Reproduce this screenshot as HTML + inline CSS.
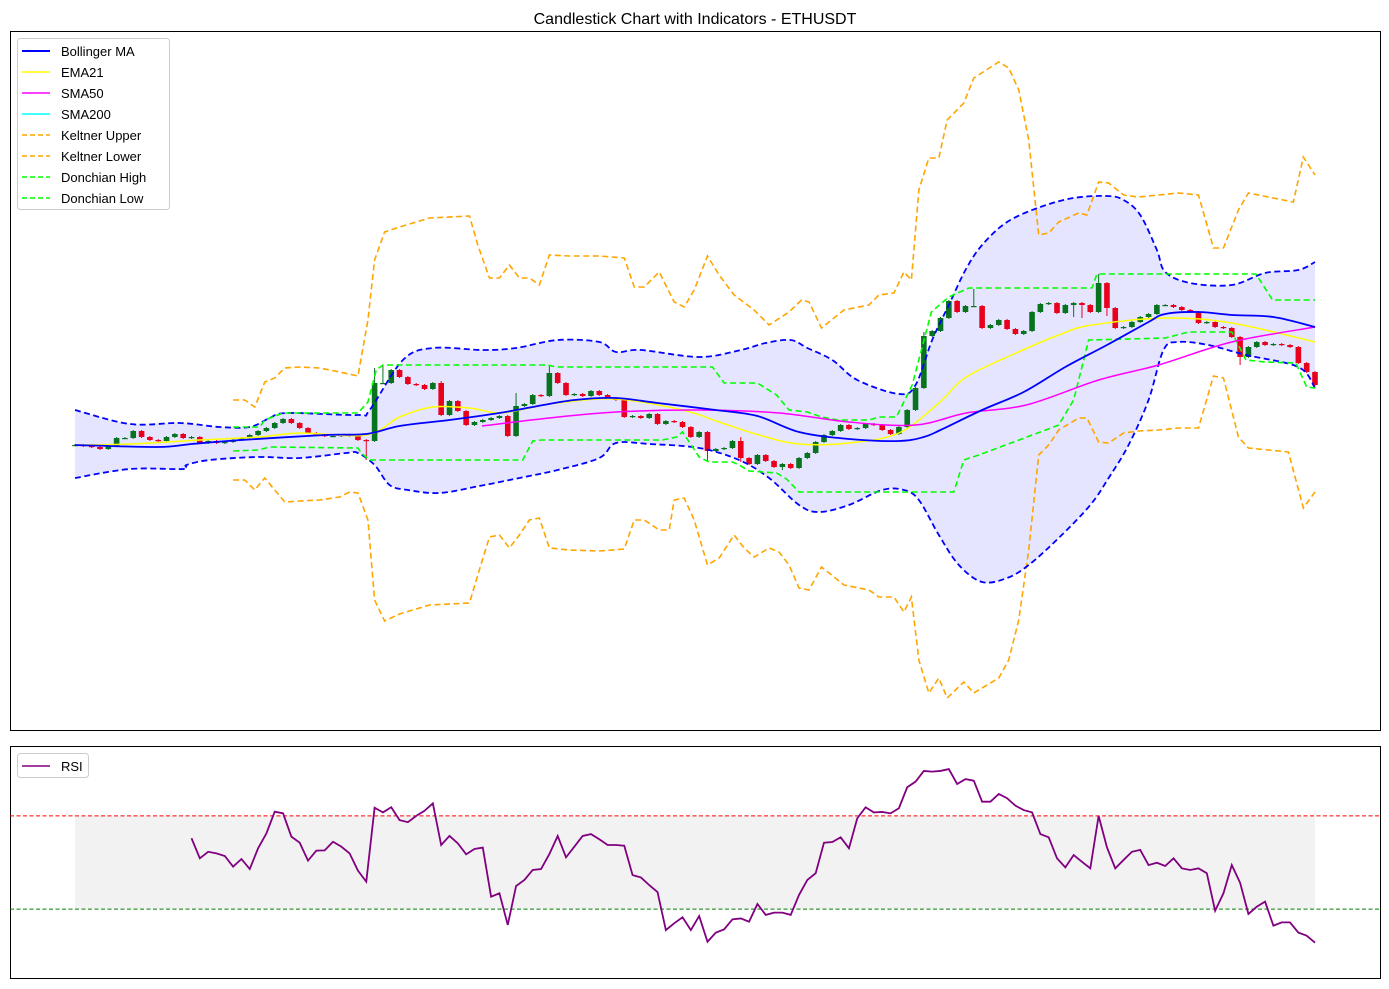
<!DOCTYPE html>
<html><head><meta charset="utf-8"><style>
html,body{margin:0;padding:0;background:#fff;}
svg{display:block;font-family:"Liberation Sans",sans-serif;}
</style></head><body>
<svg id="chart" width="1389" height="989" xmlns="http://www.w3.org/2000/svg">
<text x="695" y="24" text-anchor="middle" font-size="16" fill="#000">Candlestick Chart with Indicators - ETHUSDT</text>
<rect x="10.5" y="31.5" width="1370" height="699" fill="none" stroke="#000" stroke-width="1"/>
<rect x="10.5" y="746.5" width="1370" height="232" fill="none" stroke="#000" stroke-width="1"/>
<g id="main"></g>
<g id="rsi"></g>
<g>
<rect x="17.5" y="38.5" width="152" height="171" rx="3" fill="#fff" fill-opacity="0.85" stroke="#ccc"/>
<line x1="22" x2="50" y1="51" y2="51" stroke="#0000ff" stroke-width="2"/><text x="61" y="56" font-size="13">Bollinger MA</text>
<line x1="22" x2="50" y1="72" y2="72" stroke="#ffff00" stroke-width="1.5"/><text x="61" y="77" font-size="13">EMA21</text>
<line x1="22" x2="50" y1="93" y2="93" stroke="#ff00ff" stroke-width="1.5"/><text x="61" y="98" font-size="13">SMA50</text>
<line x1="22" x2="50" y1="114" y2="114" stroke="#00ffff" stroke-width="1.5"/><text x="61" y="119" font-size="13">SMA200</text>
<line x1="22" x2="50" y1="135" y2="135" stroke="#ffa500" stroke-width="1.5" stroke-dasharray="5,3"/><text x="61" y="140" font-size="13">Keltner Upper</text>
<line x1="22" x2="50" y1="156" y2="156" stroke="#ffa500" stroke-width="1.5" stroke-dasharray="5,3"/><text x="61" y="161" font-size="13">Keltner Lower</text>
<line x1="22" x2="50" y1="177" y2="177" stroke="#00ff00" stroke-width="1.5" stroke-dasharray="5,3"/><text x="61" y="182" font-size="13">Donchian High</text>
<line x1="22" x2="50" y1="198" y2="198" stroke="#00ff00" stroke-width="1.5" stroke-dasharray="5,3"/><text x="61" y="203" font-size="13">Donchian Low</text>
</g>
<g>
<rect x="17.5" y="753.5" width="71" height="24" rx="3" fill="#fff" fill-opacity="0.85" stroke="#ccc"/>
<line x1="22" x2="50" y1="766" y2="766" stroke="#800080" stroke-width="1.5"/><text x="61" y="771" font-size="13">RSI</text>
</g>
</svg>
<script>
// ---- data (price units) ----
const closes = [555,554,553,551,554,562,562,569,563,560,
559,563,566,562,563,557,559,557,558,560,
562,565,569,572,577,581,577,572,567,565,
564,564,565,564,560,559,617,617,630,623,
616,615,611,617,585,599,589,575,578,580,
582,584,564,594,596,605,604,627,617,605,
606,604,609,605,602,600,583,584,582,586,
576,579,578,573,563,568,549,551,552,559,
542,536,545,539,533,536,532,542,547,558,
565,569,575,571,572,576,575,570,566,573,
590,612,664,669,682,699,688,694,694,672,
675,680,671,666,669,688,696,697,687,695,
697,695,688,717,692,672,673,678,683,686,
695,695,693,690,688,677,678,673,672,663,
643,653,658,655,656,655,653,637,628,615];
const firstOpen = 555;
const highOverrides = {36:632,37:635,44:619,53:607,57:635,80:563,102:668,108:711,123:726};
const lowOverrides = {35:540,53:563,76:538,80:538,85:530,120:683,121:682,124:684,140:635};

const bbMidIdx = [0,10,14,20,30,35,39,45,51,55,60,65,70,77,82,87,93,99,102,104,109,114,119,124,129,131,135,139,144,149];
const bbMidVal = [555,553,556,560,565,566,574,580,587,593,600,602,597,590,584,568,561,559,563,570,590,608,633,655,678,686,688,685,683,673];
const bbUpIdx = [0,6.6,12.6,17.4,21,23.4,25.5,34,35.4,39.4,43,49,53,58,63,65,68,75,80,83,86,88,91,94,99,101,103,105,107,109,112,116,120,124,126,128,130,131,134,139,143,147,149];
const bbUpVal = [590,576,577,573,573,582,587,585,590,640,652,650,652,660,658,648,650,643,650,657,660,652,640,620,606,615,660,695,730,755,778,793,802,804,800,785,750,728,717,715,727,730,738];
const bbLoIdx = [0,6.6,13,13.4,16.2,22,27,32.6,34,36,37.8,40,43.8,48.6,53.4,58,63,65,69,75,79.8,83.4,87,89.4,93,97,99.6,101.4,103.8,106.2,109,112,114.6,118.2,122,124.2,126.6,129,130.8,132.6,136.2,140.7,147,149];
const bbLoVal = [522,531,531,535,540,543,542,547,547,535,515,510,507,514,522,530,542,557,556,552,540,522,495,488,495,510,510,500,465,435,418,422,435,462,495,522,555,600,650,658,655,645,633,612];
const emaIdx = [0,6.6,15,22.2,27,35,39,43,47.4,51,54.6,57.9,65,73,77.4,82.2,87,93,99,103.8,107.1,113.1,118.2,122.2,131.1,139,149];
const emaVal = [555,556,560,563,567,565,583,593,592,587,592,597,601,590,578,565,556,557,567,597,623,647,665,675,682,677,658];
const smaIdx = [48.9,57,65,75,84.6,93,101,107.1,114.3,123,130.2,139,149];
const smaVal = [574,582,588,590,587,578,575,587,595,620,635,658,673];
const dhIdx = [19,22.2,22.8,25,34,35.2,36.2,37,56.7,57.9,76.6,78,82,84.3,85.8,88,89.7,91.7,95.4,96.6,98.7,100.6,102.9,105,107.4,122.2,122.8,141.9,143.9,149];
const dhVal = [573,573,580,587,587,598,630,635,635,633,633,617,617,605,590,588,583,580,580,583,583,615,688,703,712,712,726,726,700,700];
const dlIdx = [19,22,23.4,34,34.4,35.4,53.8,55,56,70.6,72.3,73,75,76.2,79,79.8,81,84.3,85.5,87,105.6,106.8,108.6,116,118.2,120,121.8,131,133.8,139,140.7,143,146.7,148,149];
const dlVal = [549,550,553,552,547,540,540,559,560,560,563,568,543,538,538,535,529,527,521,508,508,540,545,568,575,600,660,662,668,668,640,638,637,613,612];
const kuIdx = [19,20.4,21.6,22.8,24,25.2,27,29.4,31.8,34,35.2,36,37.2,39,42.6,47.4,48.4,49.8,51,52.2,53.4,54.6,55.8,57,59.4,63,66,67.2,68.4,70.2,72,73.2,74.4,76,77.4,79.2,81.6,83.4,85.8,87.3,88.2,89.7,92.4,95.4,96.6,98.4,99.6,100.5,101.4,102.6,103.8,104.8,106.8,108,111,112.2,113.4,114.6,115.8,117,118.2,120.6,121.6,123,124.2,126,127.8,130.2,132.6,135,136.8,138,139.8,141,143.4,146.4,147.6,149];
const kuVal = [600,600,593,618,622,632,633,632,628,624,680,740,768,773,782,784,755,722,722,735,722,722,715,745,744,744,742,713,713,728,698,693,710,744,725,705,690,675,688,700,698,672,690,695,705,707,728,720,810,842,842,880,897,922,938,932,910,860,765,767,778,787,785,818,817,805,803,805,807,805,752,752,790,807,803,798,843,825];
const klIdx = [19,20.4,21.6,22.8,24,25.2,27,29.4,31.8,33,34,35.2,36,37.2,39,42.6,47.4,48.4,49.8,51,52.2,53.4,54.6,55.8,57,59.4,63,66,67.2,68.4,70.2,71.4,72,73.2,74.4,76,77.4,79.2,80.4,81.6,83.4,84.6,85.8,87,88.2,89.7,92.4,95.4,96.6,98.4,99.6,100.5,101.4,102.6,103.8,104.8,106.8,108,111,112.2,113.4,114.6,115.8,117,118.2,120.6,121.6,123,124.2,126,127.8,130.2,132.6,135,136.8,138,139.8,141,143.4,145.8,147.6,149];
const klVal = [520,520,510,522,510,498,499,500,503,508,507,480,400,379,386,395,397,425,463,465,452,465,480,482,452,450,449,451,480,480,470,470,500,502,480,435,442,465,452,443,452,448,435,412,410,433,415,410,403,403,388,403,340,307,322,302,318,307,322,340,380,450,545,555,570,582,582,558,557,567,569,570,572,572,624,622,563,552,550,548,492,508];

const rsiStart = 14;
const rsiVals = [60.4,51.8,54.6,53.9,52.8,48.2,51.5,47.2,56.1,62.5,71.8,71.1,61.1,58.5,50.8,55.1,55.2,58.9,56.8,53.9,
46.5,41.8,73.5,71.5,73.7,68.2,67.3,70.0,72.2,75.4,57.5,61.4,58.2,53.5,55.8,56.4,35.3,36.8,23.2,39.9,
42.5,46.8,47.2,53.6,61.4,52.2,56.8,61.4,62.2,60.0,57.5,57.5,57.2,44.6,43.6,40.3,37.3,21.0,23.9,26.5,
21.0,27.0,16.0,19.9,21.3,25.6,26.0,24.6,
32.2,27.5,28.5,28.5,27.5,36.1,42.5,45.4,58.5,58.8,60.8,56.1,69.0,73.7,71.5,71.7,71.1,73.3,82.3,84.7,
89.3,89.0,89.3,90.1,83.7,85.8,85.1,76.1,76.1,79.4,77.6,74.4,72.5,71.5,62.2,60.8,51.8,47.9,53.2,50.3,
47.5,70.0,56.5,47.5,51.1,54.6,55.4,48.9,49.9,48.5,51.8,47.5,46.8,47.5,45.4,29.3,36.8,48.9,41.3,27.9,
31.0,33.2,22.9,24.3,24.3,19.9,18.6,15.6];
const rsiLevels = [70, 30];

// ---- scales ----
const N = closes.length;
function xS(i){ return 75 + i * (1240 / (N - 1)); }
function yS(v){ return 1000 - v; }
function yR(v){ return 979 - v * 2.33; }

const NS = 'http://www.w3.org/2000/svg';
function mk(tag, attrs, parent){
  const e = document.createElementNS(NS, tag);
  for (const k in attrs) e.setAttribute(k, attrs[k]);
  parent.appendChild(e);
  return e;
}
function pts(idx, val, ys){ return idx.map((d,k)=> xS(d).toFixed(2)+','+ys(val[k]).toFixed(2)).join(' '); }
function smoothD(idx, val, ys, moveFirst){
  const P = idx.map((d,k)=>[xS(d), ys(val[k])]);
  let d = (moveFirst ? 'M' : 'L') + P[0][0].toFixed(2) + ',' + P[0][1].toFixed(2);
  for (let k = 0; k < P.length - 1; k++){
    const p0 = P[Math.max(0,k-1)], p1 = P[k], p2 = P[k+1], p3 = P[Math.min(P.length-1,k+2)];
    const t = 1/6;
    const c1 = [p1[0] + (p2[0]-p0[0])*t, p1[1] + (p2[1]-p0[1])*t];
    const c2 = [p2[0] - (p3[0]-p1[0])*t, p2[1] - (p3[1]-p1[1])*t];
    d += ' C' + c1[0].toFixed(2)+','+c1[1].toFixed(2)+' '+c2[0].toFixed(2)+','+c2[1].toFixed(2)+' '+p2[0].toFixed(2)+','+p2[1].toFixed(2);
  }
  return d;
}

const main = document.getElementById('main');
const rsi = document.getElementById('rsi');

// Bollinger fill
const fillD = smoothD(bbUpIdx, bbUpVal, yS, true) + ' ' + smoothD(bbLoIdx.slice().reverse(), bbLoVal.slice().reverse(), yS, false) + ' Z';
const bbFill = mk('path', {d: fillD, fill:'#0000ff', 'fill-opacity':'0.1', stroke:'none'}, main);



// candles
const cw = 5.6;
for (let i = 0; i < N; i++){
  const o = i === 0 ? firstOpen : closes[i-1];
  const c = closes[i];
  const hi = highOverrides[i] !== undefined ? highOverrides[i] : Math.max(o,c) + 1;
  const lo = lowOverrides[i] !== undefined ? lowOverrides[i] : Math.min(o,c) - 1;
  const col = c >= o ? '#08731f' : '#e8001c';
  const g = mk('g', {}, main);
  
  
  mk('line', {x1:xS(i), x2:xS(i), y1:yS(hi), y2:yS(lo), stroke:col, 'stroke-width':1}, g);
  const top = yS(Math.max(o,c)), h = Math.max(1.2, Math.abs(o-c));
  mk('rect', {x:xS(i)-cw/2, y:top, width:cw, height:h, fill:col}, g);
}

// lines
function line(idx, val, ys, attrs, name, parent){
  const a = Object.assign({points: pts(idx,val,ys), fill:'none'}, attrs);
  const p = mk('polyline', a, parent);
  
  
}
function curve(idx, val, ys, attrs, name, parent){
  const a = Object.assign({d: smoothD(idx,val,ys,true), fill:'none'}, attrs);
  const p = mk('path', a, parent);
  
  
}
line(kuIdx, kuVal, yS, {stroke:'#ffa500','stroke-width':1.6,'stroke-dasharray':'6,3.5'}, 'keltner-upper-line', main);
line(klIdx, klVal, yS, {stroke:'#ffa500','stroke-width':1.6,'stroke-dasharray':'6,3.5'}, 'keltner-lower-line', main);
curve(bbUpIdx, bbUpVal, yS, {stroke:'#0000ff','stroke-width':1.8,'stroke-dasharray':'6,3.5'}, 'bollinger-upper-line', main);
curve(bbLoIdx, bbLoVal, yS, {stroke:'#0000ff','stroke-width':1.8,'stroke-dasharray':'6,3.5'}, 'bollinger-lower-line', main);
line(dhIdx, dhVal, yS, {stroke:'#00ff00','stroke-width':1.6,'stroke-dasharray':'6,3.5'}, 'donchian-high-line', main);
line(dlIdx, dlVal, yS, {stroke:'#00ff00','stroke-width':1.6,'stroke-dasharray':'6,3.5'}, 'donchian-low-line', main);
curve(emaIdx, emaVal, yS, {stroke:'#ffff00','stroke-width':1.5}, 'ema21-line', main);
curve(smaIdx, smaVal, yS, {stroke:'#ff00ff','stroke-width':1.5}, 'sma50-line', main);
curve(bbMidIdx, bbMidVal, yS, {stroke:'#0000ff','stroke-width':1.8}, 'bollinger-ma-line', main);

// RSI panel
const band = mk('rect', {x:xS(0), y:yR(rsiLevels[0]), width:xS(N-1)-xS(0), height:yR(rsiLevels[1])-yR(rsiLevels[0]), fill:'#808080','fill-opacity':'0.1'}, rsi);


const ob = mk('line', {x1:10, x2:1381, y1:yR(rsiLevels[0]), y2:yR(rsiLevels[0]), stroke:'#ff0000','stroke-width':1,'stroke-dasharray':'4,2.5'}, rsi);


const os = mk('line', {x1:10, x2:1381, y1:yR(rsiLevels[1]), y2:yR(rsiLevels[1]), stroke:'#008000','stroke-width':1,'stroke-dasharray':'4,2.5'}, rsi);


const rIdx = rsiVals.map((v,k)=> rsiStart + k);
line(rIdx, rsiVals, yR, {stroke:'#800080','stroke-width':1.8}, 'rsi-line', rsi);
</script>
</body></html>
